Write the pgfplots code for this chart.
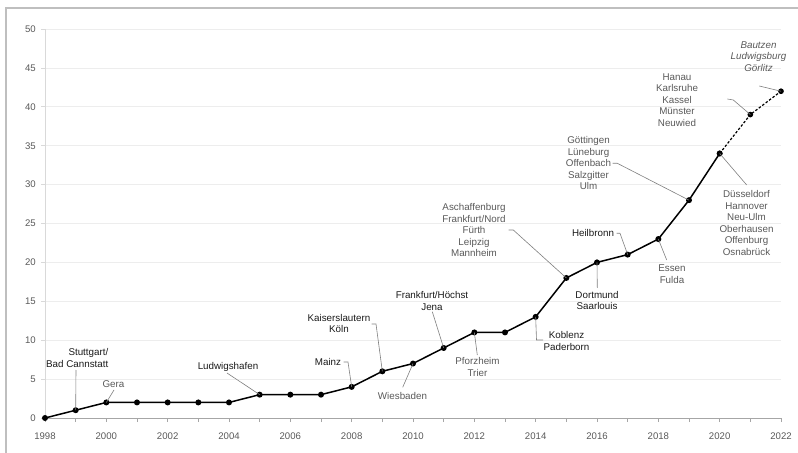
\documentclass[border=0pt]{standalone}
\usepackage{pgfplots}
\pgfplotsset{compat=1.18}
\usepackage{fontspec}
\setmainfont{Liberation Sans}
\definecolor{ticktext}{HTML}{595959}
\definecolor{labeldark}{HTML}{1A1A1A}
\definecolor{labelgray}{HTML}{595959}
\definecolor{leader}{HTML}{7F7F7F}
\definecolor{gridc}{HTML}{EDEDED}
\definecolor{xaxisc}{HTML}{A6A6A6}
\definecolor{yaxisc}{HTML}{D9D9D9}
\definecolor{framec}{HTML}{BFBFBF}
\begin{document}
\begin{tikzpicture}[
    lab/.style={inner sep=0pt, align=center, font=\fontsize{9.8bp}{11.5bp}\selectfont},
    ld/.style={draw=leader, line width=0.6bp}
]
% frame of the whole graphic (only top and left edges visible)
\draw[framec, line width=1.4bp] (6bp,-20bp) -- (6bp,445bp) -- (830bp,445bp);

\begin{axis}[
    name=ax,
    at={(45bp,35bp)}, anchor=south west,
    scale only axis,
    width=736bp, height=389bp,
    xmin=1998, xmax=2022,
    ymin=0, ymax=50,
    clip=false,
    axis x line*=bottom,
    axis y line*=left,
    x axis line style={draw=xaxisc, line width=0.8bp, -},
    y axis line style={draw=yaxisc, line width=0.8bp, -},
    xtick={1998,2000,...,2022},
    minor xtick={1999,2001,...,2021},
    ytick={0,5,...,50},
    tick align=outside,
    major tick length=4bp,
    minor tick length=4bp,
    x tick style={draw=xaxisc, line width=0.6bp},
    minor x tick style={draw=xaxisc, line width=0.6bp},
    y tick style={draw=yaxisc, line width=0.6bp},
    ymajorgrids,
    major grid style={draw=gridc, line width=0.7bp},
    /pgf/number format/assume math mode=true,
    /pgf/number format/1000 sep={},
    x tick label style={inner sep=0pt, anchor=north, yshift=-10.5bp,
        font=\fontsize{9.6bp}{11bp}\selectfont, text=ticktext},
    y tick label style={inner sep=0pt, anchor=east, xshift=-5bp,
        font=\fontsize{9.6bp}{11bp}\selectfont, text=ticktext},
]
\addplot[black, line width=1.5bp, mark=*, mark size=2.2bp] coordinates {
    (1998,0) (1999,1) (2000,2) (2001,2) (2002,2) (2003,2) (2004,2)
    (2005,3) (2006,3) (2007,3) (2008,4) (2009,6) (2010,7) (2011,9)
    (2012,11) (2013,11) (2014,13) (2015,18) (2016,20) (2017,21)
    (2018,23) (2019,28) (2020,34)
};
\addplot[black, line width=1.2bp, dash pattern=on 2.5bp off 1.8bp,
    mark=*, mark size=2.2bp, mark options={solid}] coordinates {
    (2020,34) (2021,39) (2022,42)
};
\coordinate (p1999) at (axis cs:1999,1);
\coordinate (p2000) at (axis cs:2000,2);
\coordinate (p2005) at (axis cs:2005,3);
\coordinate (p2008) at (axis cs:2008,4);
\coordinate (p2009) at (axis cs:2009,6);
\coordinate (p2010) at (axis cs:2010,7);
\coordinate (p2011) at (axis cs:2011,9);
\coordinate (p2012) at (axis cs:2012,11);
\coordinate (p2014) at (axis cs:2014,13);
\coordinate (p2015) at (axis cs:2015,18);
\coordinate (p2016) at (axis cs:2016,20);
\coordinate (p2017) at (axis cs:2017,21);
\coordinate (p2018) at (axis cs:2018,23);
\coordinate (p2019) at (axis cs:2019,28);
\coordinate (p2020) at (axis cs:2020,34);
\coordinate (p2021) at (axis cs:2021,39);
\coordinate (p2022) at (axis cs:2022,42);
\end{axis}

% leader lines
\draw[ld] (p1999) -- (76bp,83bp);
\draw[ld] (p2000) -- (114bp,63bp);
\draw[ld] (p2005) -- (227bp,80bp);
\draw[ld] (p2008) -- (348bp,91bp) -- (343.5bp,91bp);
\draw[ld] (p2009) -- (376bp,129bp) -- (371.5bp,129bp);
\draw[ld] (p2011) -- (432.3bp,141.3bp);
\draw[ld] (p2010) -- (402.7bp,65.7bp);
\draw[ld] (p2012) -- (477.3bp,98bp);
\draw[ld] (p2014) -- (536.5bp,113bp) -- (543bp,113bp);
\draw[ld] (p2015) -- (513.3bp,223bp) -- (508.5bp,223bp);
\draw[ld] (p2017) -- (620bp,219.7bp) -- (616.7bp,219.7bp);
\draw[ld] (p2016) -- (597.3bp,165bp);
\draw[ld] (p2018) -- (666.7bp,193bp);
\draw[ld] (p2019) -- (617.3bp,289.7bp) -- (612.7bp,289.7bp);
\draw[ld] (p2020) -- (746.7bp,268bp);
\draw[ld] (p2021) -- (733.3bp,353bp) -- (727.3bp,354bp);
\draw[ld] (p2022) -- (759.3bp,367bp);

% labels
\node[lab, text=labeldark, anchor=east, align=right] at (108.5bp,95bp) {Stuttgart/\\Bad Cannstatt};
\node[lab, text=labelgray] at (113.5bp,69bp) {Gera};
\node[lab, text=labeldark] at (228bp,86bp) {Ludwigshafen};
\node[lab, text=labeldark] at (328bp,91bp) {Mainz};
\node[lab, text=labeldark] at (339bp,129.5bp) {Kaiserslautern\\Köln};
\node[lab, text=labeldark] at (432bp,152bp) {Frankfurt/Höchst\\Jena};
\node[lab, text=labelgray] at (402.5bp,57bp) {Wiesbaden};
\node[lab, text=labelgray] at (477.5bp,86bp) {Pforzheim\\Trier};
\node[lab, text=labeldark] at (566.5bp,112bp) {Koblenz\\Paderborn};
\node[lab, text=labelgray] at (474bp,223bp) {Aschaffenburg\\Frankfurt/Nord\\Fürth\\Leipzig\\Mannheim};
\node[lab, text=labeldark] at (593bp,219.7bp) {Heilbronn};
\node[lab, text=labeldark] at (597bp,152.3bp) {Dortmund\\Saarlouis};
\node[lab, text=labelgray] at (672bp,179bp) {Essen\\Fulda};
\node[lab, text=labelgray] at (588.5bp,289.5bp) {Göttingen\\Lüneburg\\Offenbach\\Salzgitter\\Ulm};
\node[lab, text=labelgray] at (746.5bp,230bp) {Düsseldorf\\Hannover\\Neu-Ulm\\Oberhausen\\Offenburg\\Osnabrück};
\node[lab, text=labelgray] at (677bp,353bp) {Hanau\\Karlsruhe\\Kassel\\Münster\\Neuwied};
\node[lab, text=labelgray, font=\fontsize{9.8bp}{11.5bp}\selectfont\itshape] at (758.5bp,396.5bp) {Bautzen\\Ludwigsburg\\Görlitz};

\pgfresetboundingbox
\path (0,0) rectangle (798bp,453bp);
\end{tikzpicture}
\end{document}
